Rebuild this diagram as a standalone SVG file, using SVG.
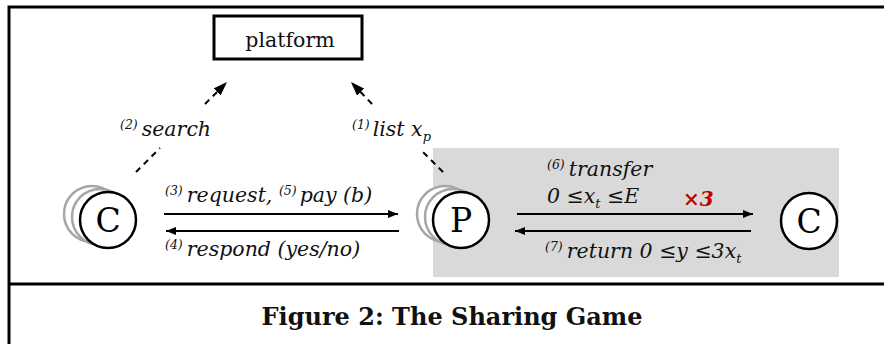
<svg xmlns="http://www.w3.org/2000/svg" width="884" height="344" viewBox="0 0 884 344">
<defs>
<marker id="ah" markerWidth="10" markerHeight="8" refX="10" refY="4" orient="auto" markerUnits="userSpaceOnUse"><path d="M0,0 L10,4 L0,8 Z" fill="#000"/></marker>
<marker id="ahs" markerWidth="14" markerHeight="10" refX="14" refY="5" orient="auto" markerUnits="userSpaceOnUse"><path d="M0,0 L14,5 L0,10 Z" fill="#000"/></marker>
<style>
.frame{stroke:#000;stroke-width:3;fill:none}
.node{fill:#fff;stroke:#000;stroke-width:2.5}
.ghost{fill:#fff;stroke:#a6a6a6;stroke-width:2.5}
.lbl{font-family:"DejaVu Serif","Liberation Serif",serif;font-style:italic;font-size:20.5px;fill:#111}
.sup{font-size:12.5px}
.sub{font-size:13px}
.big{font-family:"DejaVu Serif","Liberation Serif",serif;font-size:33px;fill:#000;text-anchor:middle}
.arr{stroke:#000;stroke-width:2;fill:none}
.dash{stroke:#000;stroke-width:2;fill:none;stroke-dasharray:6 5}
</style>
</defs>
<rect x="0" y="0" width="884" height="344" fill="#fff"/>
<g id="frame">
<path class="frame" d="M9,344 L9,7 L884,7"/>
<path class="frame" d="M9,284 L884,284"/>
</g>
<rect id="shade" x="433" y="148" width="406" height="129" fill="#d9d9d9"/>
<g id="connectors">
<path class="dash" d="M136,172 L160,148"/>
<path class="dash" d="M205,104 L227,82" marker-end="url(#ahs)"/>
<path class="dash" d="M443,172 L420,149"/>
<path class="dash" d="M372,104 L351,82" marker-end="url(#ahs)"/>
<path class="arr" d="M164,214 L398,214" marker-end="url(#ah)"/>
<path class="arr" d="M399,231 L166,231" marker-end="url(#ah)"/>
<path class="arr" d="M517,214 L753,214" marker-end="url(#ah)"/>
<path class="arr" d="M751,231 L515,231" marker-end="url(#ah)"/>
</g>
<g id="platform">
<rect x="214" y="16" width="148" height="43" fill="#fff" stroke="#000" stroke-width="3"/>
<text x="290" y="47" font-family="DejaVu Serif, Liberation Serif, serif" font-size="20.5" text-anchor="middle" fill="#111">platform</text>
</g>
<g id="consumers-left">
<circle class="ghost" cx="92" cy="214" r="28"/>
<circle class="ghost" cx="100" cy="217" r="28"/>
<circle class="node" cx="108" cy="220" r="28"/>
<text class="big" x="108" y="232">C</text>
</g>
<g id="providers">
<circle class="ghost" cx="445" cy="214" r="28"/>
<circle class="ghost" cx="453" cy="217" r="28"/>
<circle class="node" cx="461" cy="220" r="28"/>
<text class="big" x="461" y="232">P</text>
</g>
<g id="consumer-right">
<circle class="node" cx="809" cy="221" r="28"/>
<text class="big" x="809" y="233">C</text>
</g>
<g id="labels">
<text class="lbl" x="120" y="136"><tspan class="sup" dy="-7">(2)</tspan><tspan dy="7" dx="4">search</tspan></text>
<text class="lbl" x="352" y="136"><tspan class="sup" dy="-7">(1)</tspan><tspan dy="7" dx="3">list x</tspan><tspan class="sub" dy="5">p</tspan></text>
<text class="lbl" x="165" y="202"><tspan class="sup" dy="-7">(3)</tspan><tspan dy="7" dx="4">request, </tspan><tspan class="sup" dy="-7">(5)</tspan><tspan dy="7" dx="3">pay (b)</tspan></text>
<text class="lbl" x="165" y="256"><tspan class="sup" dy="-7">(4)</tspan><tspan dy="7" dx="4">respond (yes/no)</tspan></text>
<text class="lbl" x="547" y="176"><tspan class="sup" dy="-7">(6)</tspan><tspan dy="7" dx="4">transfer</tspan></text>
<text class="lbl" x="547" y="203">0 ≤x<tspan class="sub" dy="5">t</tspan><tspan dy="-5"> ≤E</tspan></text>
<text x="683" y="206" font-family="DejaVu Serif, Liberation Serif, serif" font-style="italic" font-weight="bold" font-size="20" fill="#c00000">×3</text>
<text class="lbl" x="545" y="258"><tspan class="sup" dy="-7">(7)</tspan><tspan dy="7" dx="4">return 0 ≤y ≤3x</tspan><tspan class="sub" dy="5">t</tspan></text>
</g>
<text id="caption" x="452" y="325" font-family="DejaVu Serif, Liberation Serif, serif" font-weight="bold" font-size="24" text-anchor="middle" fill="#111">Figure 2: The Sharing Game</text>
</svg>
